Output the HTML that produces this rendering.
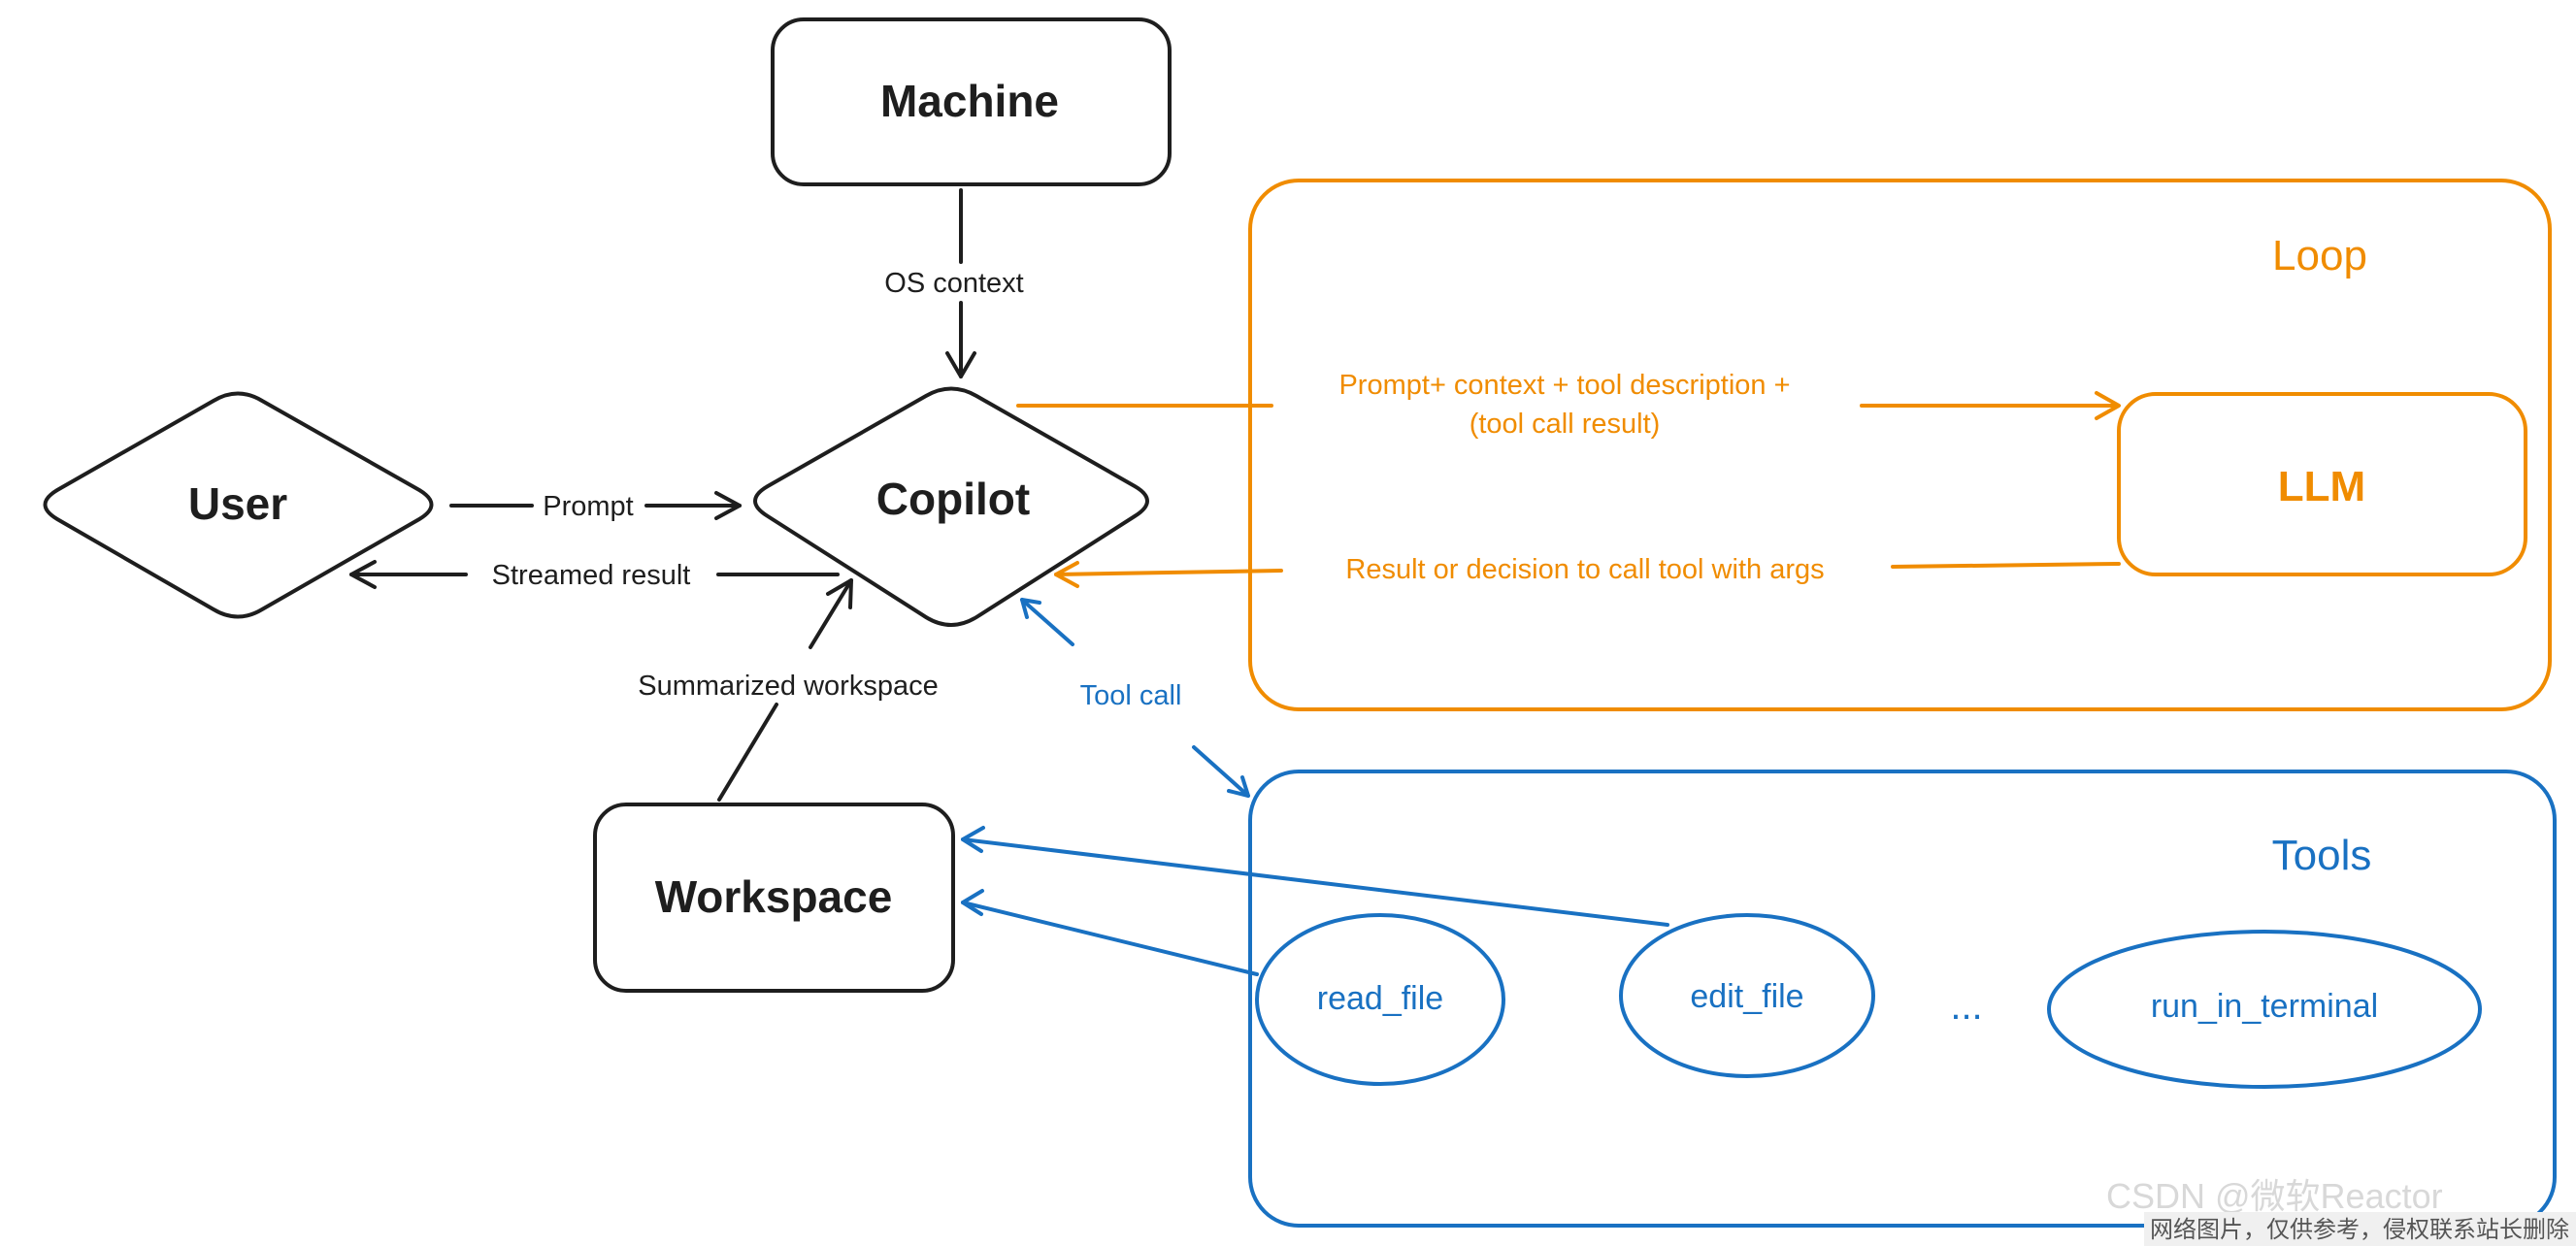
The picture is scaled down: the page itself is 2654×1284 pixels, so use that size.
<!DOCTYPE html>
<html><head><meta charset="utf-8"><style>
html,body{margin:0;padding:0;background:#fff;}
svg{display:block}
text{font-family:"Liberation Sans","Noto Sans CJK SC",sans-serif;}
</style></head><body>
<svg width="2654" height="1284" viewBox="0 0 2654 1284" xmlns="http://www.w3.org/2000/svg">
<g fill="none" stroke-linecap="round" stroke-linejoin="round">
<!-- Machine -->
<rect x="796" y="20" width="409" height="170" rx="32" stroke="#1e1e1e" stroke-width="4"/>
<!-- Workspace -->
<rect x="613" y="829" width="369" height="192" rx="32" stroke="#1e1e1e" stroke-width="4"/>
<!-- User diamond -->
<path d="M59,505 L220,413 Q245,398 270,413 L432,505 Q457,520 432,535 L270,628 Q245,643 220,628 L59,535 Q34,520 59,505Z" stroke="#1e1e1e" stroke-width="4"/>
<!-- Copilot diamond -->
<path d="M791,501 L954,408 Q980,393 1006,408 L1169,501 Q1195,516 1169,532 L1006,636 Q980,652 954,636 L791,532 Q765,516 791,501Z" stroke="#1e1e1e" stroke-width="4"/>
<!-- Loop -->
<rect x="1288" y="186" width="1339" height="545" rx="50" stroke="#f08c00" stroke-width="4"/>
<rect x="2183" y="406" width="419" height="186" rx="38" stroke="#f08c00" stroke-width="4"/>
<!-- Tools -->
<rect x="1288" y="795" width="1344" height="468" rx="50" stroke="#1971c2" stroke-width="4"/>
<ellipse cx="1422" cy="1030" rx="127" ry="87" stroke="#1971c2" stroke-width="4"/>
<ellipse cx="1800" cy="1026" rx="130" ry="83" stroke="#1971c2" stroke-width="4"/>
<ellipse cx="2333" cy="1040" rx="222" ry="80" stroke="#1971c2" stroke-width="4"/>
<!-- black arrows -->
<line x1="990" y1="196" x2="990" y2="270" stroke="#1e1e1e" stroke-width="4"/>
<line x1="990" y1="312" x2="990" y2="388" stroke="#1e1e1e" stroke-width="4"/>
<path d="M976,364 L990,388 L1004,364" stroke="#1e1e1e" stroke-width="4"/>
<line x1="465" y1="521" x2="548" y2="521" stroke="#1e1e1e" stroke-width="4"/>
<line x1="666" y1="521" x2="762" y2="521" stroke="#1e1e1e" stroke-width="4"/>
<path d="M738,508 L762,521 L738,534" stroke="#1e1e1e" stroke-width="4"/>
<line x1="863" y1="592" x2="740" y2="592" stroke="#1e1e1e" stroke-width="4"/>
<line x1="480" y1="592" x2="362" y2="592" stroke="#1e1e1e" stroke-width="4"/>
<path d="M386,579 L362,592 L386,605" stroke="#1e1e1e" stroke-width="4"/>
<line x1="741" y1="824" x2="800" y2="726" stroke="#1e1e1e" stroke-width="4"/>
<line x1="835" y1="667" x2="877" y2="598" stroke="#1e1e1e" stroke-width="4"/>
<path d="M876,626 L877,598 L853,612" stroke="#1e1e1e" stroke-width="4"/>
<!-- orange -->
<line x1="1049" y1="418" x2="1310" y2="418" stroke="#f08c00" stroke-width="4"/>
<line x1="1918" y1="418" x2="2180" y2="418" stroke="#f08c00" stroke-width="4"/>
<path d="M2160,405 L2183,418 L2160,431" stroke="#f08c00" stroke-width="4"/>
<line x1="2183" y1="581" x2="1950" y2="584" stroke="#f08c00" stroke-width="4"/>
<line x1="1320" y1="588" x2="1088" y2="592" stroke="#f08c00" stroke-width="4"/>
<path d="M1110,580 L1088,592 L1110,604" stroke="#f08c00" stroke-width="4"/>
<!-- blue -->
<line x1="1053" y1="618" x2="1105" y2="664" stroke="#1971c2" stroke-width="4"/>
<line x1="1230" y1="770" x2="1286" y2="820" stroke="#1971c2" stroke-width="4"/>
<path d="M1058,636 L1053,618 L1071,621" stroke="#1971c2" stroke-width="4"/>
<path d="M1266,815 L1286,820 L1280,801" stroke="#1971c2" stroke-width="4"/>
<line x1="1718" y1="953" x2="992" y2="865" stroke="#1971c2" stroke-width="4"/>
<path d="M1013,853 L992,865 L1011,877" stroke="#1971c2" stroke-width="4"/>
<line x1="1295" y1="1004" x2="992" y2="930" stroke="#1971c2" stroke-width="4"/>
<path d="M1012,918 L992,930 L1011,942" stroke="#1971c2" stroke-width="4"/>
</g>
<g text-anchor="middle" font-weight="bold">
<text x="999" y="120" font-size="46" fill="#1e1e1e">Machine</text>
<text x="245" y="535" font-size="46" fill="#1e1e1e">User</text>
<text x="982" y="530" font-size="46" fill="#1e1e1e">Copilot</text>
<text x="797" y="940" font-size="46" fill="#1e1e1e">Workspace</text>
<text x="2390" y="278" font-size="44" fill="#f08c00" font-weight="normal">Loop</text>
<text x="2392" y="516" font-size="44" fill="#f08c00">LLM</text>
<text x="2392" y="896" font-size="44" fill="#1971c2" font-weight="normal">Tools</text>
</g>
<g text-anchor="middle" font-size="29">
<text x="983" y="301" fill="#1e1e1e">OS context</text>
<text x="606" y="531" fill="#1e1e1e">Prompt</text>
<text x="609" y="602" fill="#1e1e1e">Streamed result</text>
<text x="812" y="716" fill="#1e1e1e">Summarized workspace</text>
<text x="1165" y="726" fill="#1971c2">Tool call</text>
<text x="1612" y="406" fill="#f08c00">Prompt+ context + tool description +</text>
<text x="1612" y="446" fill="#f08c00">(tool call result)</text>
<text x="1633" y="596" fill="#f08c00">Result or decision to call tool with args</text>
<text x="1422" y="1040" font-size="34" fill="#1971c2">read_file</text>
<text x="1800" y="1038" font-size="34" fill="#1971c2">edit_file</text>
<text x="2333" y="1048" font-size="34" fill="#1971c2">run_in_terminal</text>
<text x="2026" y="1050" font-size="40" fill="#1971c2">...</text>
</g>
<text x="2170" y="1245" font-size="36" fill="#d8d8d8">CSDN @微软Reactor</text>
<rect x="2209" y="1249" width="445" height="35" fill="#f0f0f0"/>
<text x="2431" y="1275" text-anchor="middle" font-size="24" fill="#555">网络图片，仅供参考，侵权联系站长删除</text>
</svg>
</body></html>
